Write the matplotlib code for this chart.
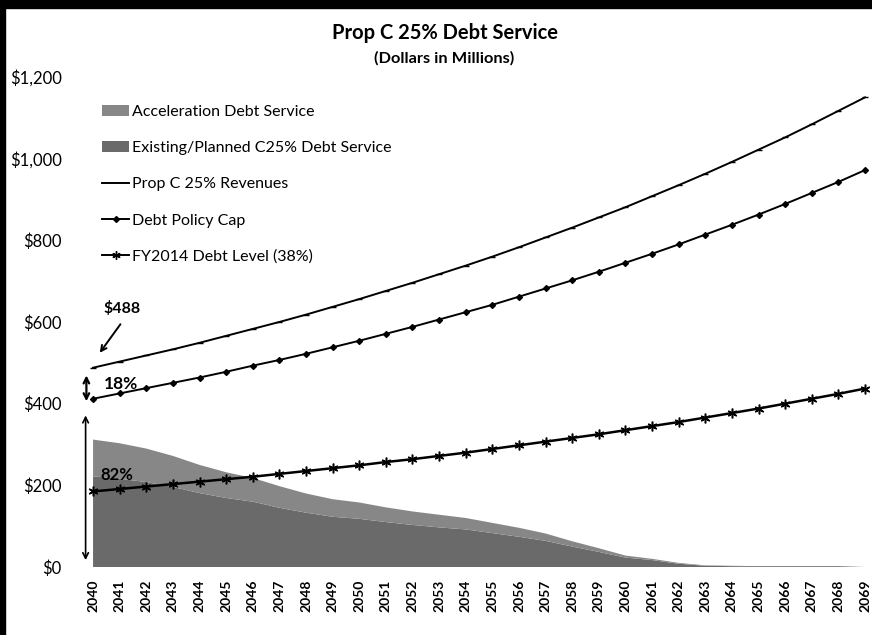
import matplotlib.pyplot as plt
from matplotlib.patches import Patch, Rectangle
from matplotlib.lines import Line2D

plt.rcParams['font.family'] = ['Lato', 'DejaVu Sans']

# Du lieu doc tu bieu do (trieu USD)
nam = list(range(2040, 2070))
doanh_thu = [488, 503, 518, 533, 549, 566, 583, 600, 618, 637,
             656, 676, 696, 717, 738, 760, 783, 807, 831, 856,
             881, 908, 935, 963, 992, 1022, 1052, 1084, 1117, 1150]
tran_no = [412, 425, 438, 451, 464, 478, 493, 507, 522, 538,
           554, 571, 588, 606, 624, 642, 662, 682, 702, 723,
           745, 767, 790, 814, 838, 863, 889, 916, 943, 972]
muc_no_2014 = [185, 191, 197, 203, 209, 215, 221, 228, 235, 242,
               249, 257, 264, 272, 280, 289, 298, 307, 316, 325,
               335, 345, 355, 366, 377, 388, 400, 412, 424, 437]
no_hien_co = [222, 216, 208, 196, 181, 169, 160, 145, 133, 123,
              118, 110, 103, 97, 92, 83, 74, 64, 50, 37,
              23, 17, 8, 3, 2, 2, 2, 2, 2, 0]
no_tang_toc = [90, 87, 82, 76, 69, 63, 58, 53, 47, 43,
               40, 36, 33, 31, 28, 25, 22, 18, 13, 9,
               5, 3, 2, 1, 1, 0, 0, 0, 0, 0]
nhan_y = ['$0', '$200', '$400', '$600', '$800', '$1,000', '$1,200']

fig = plt.figure(figsize=(8.72, 6.35), dpi=100)
ax = fig.add_axes([0.0945, 0.1071, 0.9036, 0.7717])

# Vung xep chong
ax.stackplot(nam, no_hien_co, no_tang_toc, colors=['#6a6a6a', '#878787'], linewidth=0)

# Cac duong
ax.plot(nam, doanh_thu, color='black', lw=1.4, marker='_', ms=4, clip_on=False)
ax.plot(nam, tran_no, color='black', lw=1.4, marker='D', ms=3, clip_on=False)
ax.plot(nam, muc_no_2014, color='black', lw=1.8, marker=(6, 2, 0), ms=7, mew=1.1, clip_on=False)

ax.set_xlim(2039.6, 2069.2)
ax.set_ylim(0, 1200)
ax.set_xticks(nam)
ax.set_xticklabels([str(n) for n in nam], rotation=90, fontsize=10, fontweight='bold')
ax.set_yticks(range(0, 1201, 200))
ax.set_yticklabels(nhan_y, fontsize=12)
ax.tick_params(length=0)
ax.tick_params(axis='y', pad=15)
ax.tick_params(axis='x', pad=9)
for s in ax.spines.values():
    s.set_visible(False)

# Chu thich
handles = [
    Patch(facecolor='#878787', edgecolor='none'),
    Patch(facecolor='#6a6a6a', edgecolor='none'),
    Line2D([], [], color='black', lw=1.4),
    Line2D([], [], color='black', lw=1.4, marker='D', ms=3),
    Line2D([], [], color='black', lw=1.4, marker=(6, 2, 0), ms=6),
]
labels = ['Acceleration Debt Service', 'Existing/Planned C25% Debt Service',
          'Prop C 25% Revenues', 'Debt Policy Cap', 'FY2014 Debt Level (38%)']
fig.legend(handles, labels, loc='upper left', bbox_to_anchor=(0.117, 0.835),
           frameon=False, fontsize=11.5, labelspacing=1.38, handlelength=1.7,
           handletextpad=0.2, borderpad=0, borderaxespad=0)

# Ghi chu va mui ten
ax.annotate('', xy=(2040.19, 519), xytext=(2041.09, 600),
            arrowprops=dict(arrowstyle='->', color='black', lw=1.4))
ax.text(2041.1, 632, '$488', ha='center', va='center', fontsize=11.5, fontweight='bold')
ax.annotate('', xy=(2039.75, 399), xytext=(2039.75, 476),
            arrowprops=dict(arrowstyle='<->', color='black', lw=1.6))
ax.text(2041.05, 447, '18%', ha='center', va='center', fontsize=12.5, fontweight='bold')
ax.annotate('', xy=(2039.72, 10), xytext=(2039.72, 378),
            arrowprops=dict(arrowstyle='<->', color='black', lw=1.2))
ax.text(2040.9, 226, '82%', ha='center', va='center', fontsize=12, fontweight='bold')

# Tieu de
fig.text(0.510, 0.948, 'Prop C 25% Debt Service', ha='center', va='center',
         fontsize=14.5, fontweight='bold')
fig.text(0.509, 0.908, '(Dollars in Millions)', ha='center', va='center',
         fontsize=11.8, fontweight='bold')

# Vien den cua ban quet
fig.patches.append(Rectangle((0, 1 - 8 / 635), 1, 8 / 635, transform=fig.transFigure,
                             color='black', zorder=10))
fig.patches.append(Rectangle((0, 0), 5 / 872, 1, transform=fig.transFigure,
                             color='black', zorder=10))

fig.savefig('out.png', dpi=100)
